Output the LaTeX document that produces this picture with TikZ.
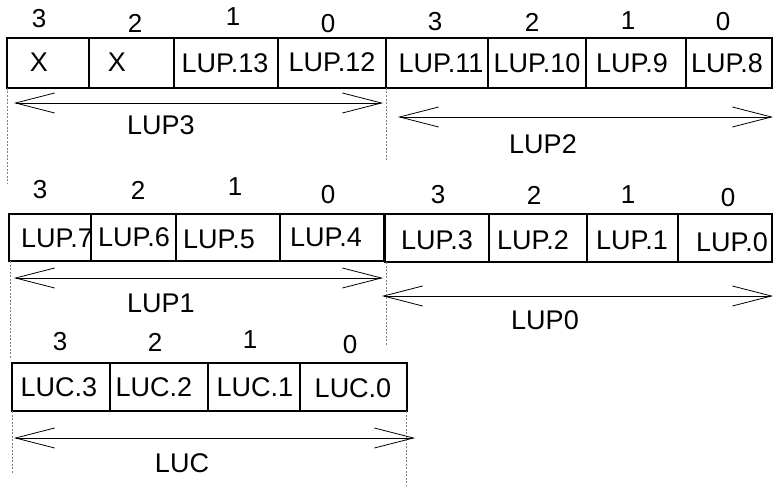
\documentclass[tikz,border=0pt]{standalone}
\usepackage{fontspec}
\setmainfont{Liberation Sans}
\usetikzlibrary{arrows.meta}
\begin{document}
\begin{tikzpicture}[x=1pt,y=-1pt,
  cell/.style={draw,line width=1.4pt,inner sep=0pt,outer sep=0pt,anchor=north west},
  txt/.style={inner sep=0pt,font=\fontsize{27}{31}\selectfont},
  num/.style={inner sep=0pt,font=\fontsize{26}{30}\selectfont},
  dim/.style={line width=0.8pt,{Straight Barb[length=39pt,width=20pt,line width=0.8pt]}-{Straight Barb[length=39pt,width=20pt,line width=0.8pt]}},
  guide/.style={gray,line width=0.6pt,dash pattern=on 2pt off 1.5pt}]
\useasboundingbox (0,0) rectangle (774,487);
% ---------- Row 1 left (LUP3)
\node[cell,minimum width=82pt,minimum height=50pt] (a3) at (7,38) {};
\node[cell,minimum width=85pt,minimum height=50pt] (a2) at (89,38) {};
\node[cell,minimum width=104pt,minimum height=50pt] (a1) at (174,38) {};
\node[cell,minimum width=108pt,minimum height=50pt] (a0) at (278,38) {};
\node[txt] (ta3) at (39,62) {X};
\node[txt] (ta2) at (117,62) {X};
\node[txt] (ta1) at (225,63) {LUP.13};
\node[txt] (ta0) at (332,62) {LUP.12};
\node[num] (na3) at (39,19) {3};
\node[num] (na2) at (135,23) {2};
\node[num] (na1) at (233,17) {1};
\node[num] (na0) at (328,24) {0};
% ---------- Row 1 right (LUP2)
\node[cell,minimum width=102pt,minimum height=50pt] (b3) at (386,38) {};
\node[cell,minimum width=98pt,minimum height=50pt] (b2) at (488,38) {};
\node[cell,minimum width=100pt,minimum height=50pt] (b1) at (586,38) {};
\node[cell,minimum width=86pt,minimum height=50pt] (b0) at (686,38) {};
\node[txt] (tb3) at (441,63) {LUP.11};
\node[txt] (tb2) at (537,63) {LUP.10};
\node[txt] (tb1) at (632,63) {LUP.9};
\node[txt] (tb0) at (727,63) {LUP.8};
\node[num] (nb3) at (435,22) {3};
\node[num] (nb2) at (532,22) {2};
\node[num] (nb1) at (628,21) {1};
\node[num] (nb0) at (723,22) {0};
% ---------- Row 2 left (LUP1)
\node[cell,minimum width=82pt,minimum height=47pt] (c3) at (9,214) {};
\node[cell,minimum width=85pt,minimum height=47pt] (c2) at (91,214) {};
\node[cell,minimum width=104pt,minimum height=47pt] (c1) at (176,214) {};
\node[cell,minimum width=104pt,minimum height=47pt] (c0) at (280,214) {};
\node[txt] (tc3) at (57,238) {LUP.7};
\node[txt] (tc2) at (134,237) {LUP.6};
\node[txt] (tc1) at (219,239) {LUP.5};
\node[txt] (tc0) at (326,237) {LUP.4};
\node[num] (nc3) at (40,190) {3};
\node[num] (nc2) at (138,190) {2};
\node[num] (nc1) at (235,187) {1};
\node[num] (nc0) at (328,195) {0};
% ---------- Row 2 right (LUP0)
\node[cell,minimum width=104pt,minimum height=48pt] (d3) at (385,214) {};
\node[cell,minimum width=98pt,minimum height=48pt] (d2) at (489,214) {};
\node[cell,minimum width=91pt,minimum height=48pt] (d1) at (587,214) {};
\node[cell,minimum width=94pt,minimum height=48pt] (d0) at (678,214) {};
\node[txt] (td3) at (437,240) {LUP.3};
\node[txt] (td2) at (533,240) {LUP.2};
\node[txt] (td1) at (632,240) {LUP.1};
\node[txt] (td0) at (732,242) {LUP.0};
\node[num] (nd3) at (438,195) {3};
\node[num] (nd2) at (534,195) {2};
\node[num] (nd1) at (628,195) {1};
\node[num] (nd0) at (728,198) {0};
% ---------- Row 3 (LUC)
\node[cell,minimum width=98pt,minimum height=48pt] (e3) at (12,363) {};
\node[cell,minimum width=98pt,minimum height=48pt] (e2) at (110,363) {};
\node[cell,minimum width=92pt,minimum height=48pt] (e1) at (208,363) {};
\node[cell,minimum width=107pt,minimum height=48pt] (e0) at (300,363) {};
\node[txt] (te3) at (59,387) {LUC.3};
\node[txt] (te2) at (154,387) {LUC.2};
\node[txt] (te1) at (255,387) {LUC.1};
\node[txt] (te0) at (353,388) {LUC.0};
\node[num] (ne3) at (60,342) {3};
\node[num] (ne2) at (155,342) {2};
\node[num] (ne1) at (250,340) {1};
\node[num] (ne0) at (350,345) {0};
% ---------- guide lines
\coordinate (g1a) at (7,88);   \coordinate (g1b) at (7,183);
\coordinate (g2a) at (386,88); \coordinate (g2b) at (386,160);
\coordinate (g3a) at (10,261); \coordinate (g3b) at (10,358);
\coordinate (g4a) at (386,262);\coordinate (g4b) at (386,345);
\coordinate (g5a) at (12,411); \coordinate (g5b) at (12,473);
\coordinate (g6a) at (406,411);\coordinate (g6b) at (406,486);
\draw[guide] (g1a) -- (g1b);
\draw[guide] (g2a) -- (g2b);
\draw[guide] (g3a) -- (g3b);
\draw[guide] (g4a) -- (g4b);
\draw[guide] (g5a) -- (g5b);
\draw[guide] (g6a) -- (g6b);
% ---------- dimension arrows
\coordinate (p3a) at (14,103);  \coordinate (p3b) at (383,103);
\coordinate (p2a) at (398,117); \coordinate (p2b) at (773,117);
\coordinate (p1a) at (14,278);  \coordinate (p1b) at (383,278);
\coordinate (p0a) at (382,296); \coordinate (p0b) at (773,296);
\coordinate (pca) at (14,438);  \coordinate (pcb) at (415,438);
\draw[dim] (p3a) -- (p3b);
\draw[dim] (p2a) -- (p2b);
\draw[dim] (p1a) -- (p1b);
\draw[dim] (p0a) -- (p0b);
\draw[dim] (pca) -- (pcb);
\node[txt] (l3) at (161,125) {LUP3};
\node[txt] (l2) at (543,144) {LUP2};
\node[txt] (l1) at (161,303) {LUP1};
\node[txt] (l0) at (545,320) {LUP0};
\node[txt] (lc) at (182,463) {LUC};
\end{tikzpicture}
\end{document}
